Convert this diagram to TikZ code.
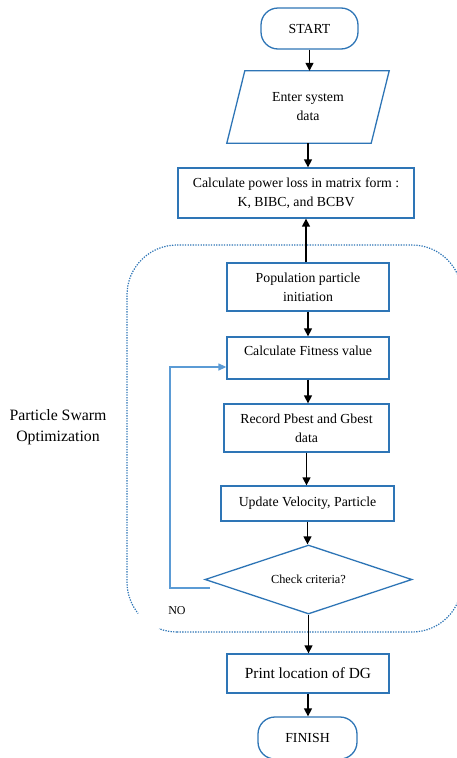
\documentclass[tikz,border=0pt]{standalone}
\usepackage{fontspec}
\setmainfont{Liberation Serif}
\usetikzlibrary{arrows.meta,shapes.geometric,calc}
\definecolor{boxblue}{RGB}{46,117,182}
\definecolor{loopblue}{RGB}{91,155,213}
\begin{document}
\begin{tikzpicture}[x=1pt,y=1pt,
  every node/.style={font=\fontsize{13.8}{19}\selectfont, align=center, inner sep=0pt},
  procbox/.style={draw=boxblue, line width=1.3pt, rectangle},
  termbox/.style={draw=boxblue, line width=1.3pt, rectangle, rounded corners=17pt},
  arr/.style={draw=black, line width=1.4pt, -{Triangle[length=8pt,width=8pt]}},
  loopline/.style={draw=loopblue, line width=1.3pt, -{Triangle[length=8pt,width=7pt]}},
  dotbox/.style={draw=boxblue, line width=1.2pt, dash pattern=on 1.3pt off 1.3pt}]
\useasboundingbox (0,0) rectangle (457,-758);

% dotted PSO region
\draw[dotbox] (177,-632) -- (412,-632) arc[start angle=-90,end angle=0,radius=50]
  -- (462,-295) arc[start angle=0,end angle=90,radius=50]
  -- (177,-245) arc[start angle=90,end angle=180,radius=50] -- (127,-582)
  arc[start angle=180,end angle=219,radius=50];
\draw[dotbox] (177,-632) arc[start angle=270,end angle=249,radius=50];

% nodes
\node[termbox, minimum width=97, minimum height=41] (start) at (309.5,-28.5) {START};
\node[minimum width=162, minimum height=72] (enter) at (308,-107) {Enter system\\data};
\draw[draw=boxblue, line width=1.3pt] ($(enter.north west)+(18,0)$) -- (enter.north east)
  -- ($(enter.south east)+(-18,0)$) -- (enter.south west) -- cycle;
\node[procbox, minimum width=236, minimum height=50] (calc) at (296,-193)
  {Calculate power loss in matrix form :\\K, BIBC, and BCBV};
\node[procbox, minimum width=162, minimum height=48] (pop) at (308,-287)
  {Population particle\\initiation};
\node[procbox, minimum width=162, minimum height=42] (fit) at (308,-358)
  {\raisebox{6pt}[9pt][3pt]{Calculate Fitness value}};
\node[procbox, minimum width=165, minimum height=48] (rec) at (306.5,-428)
  {Record Pbest and Gbest\\data};
\node[procbox, minimum width=173, minimum height=35] (upd) at (307.5,-503.5)
  {Update Velocity, Particle};
\node[draw=boxblue, line width=1.3pt, diamond, aspect=3, minimum width=207, minimum height=69,
  font=\fontsize{12.3}{15}\selectfont] (chk) at (308.5,-579.5) {Check criteria?};
\node[procbox, minimum width=162, minimum height=39, font=\fontsize{15.4}{19}\selectfont]
  (prt) at (308,-673.5) {Print location of DG};
\node[termbox, minimum width=99, minimum height=42] (fin) at (307.5,-738) {FINISH};

\node[font=\fontsize{15.8}{21}\selectfont] (pso) at (58,-427) {Particle Swarm\\Optimization};
\node[font=\fontsize{12}{14}\selectfont] (no) at (177,-611) {NO};

% connectors
\draw[arr] (start.south) -- (start.south |- enter.north);
\draw[arr] (enter.south) -- (enter.south |- calc.north);
\draw[arr] ([xshift=-2pt]pop.north) -- ([xshift=-2pt]pop.north |- calc.south);
\draw[arr] (pop.south) -- (fit.north);
\draw[arr] (fit.south) -- (fit.south |- rec.north);
\draw[arr] (rec.south) -- (rec.south |- upd.north);
\draw[arr] (upd.south) -- (upd.south |- chk.north);
\draw[arr] (chk.south) -- (chk.south |- prt.north);
\draw[arr] (prt.south) -- (prt.south |- fin.north);

\coordinate (ls) at (210,-588);
\coordinate (lc) at (170,-367);
\draw[loopline] (ls) -| (lc) -- (lc -| fit.west);
\end{tikzpicture}
\end{document}
